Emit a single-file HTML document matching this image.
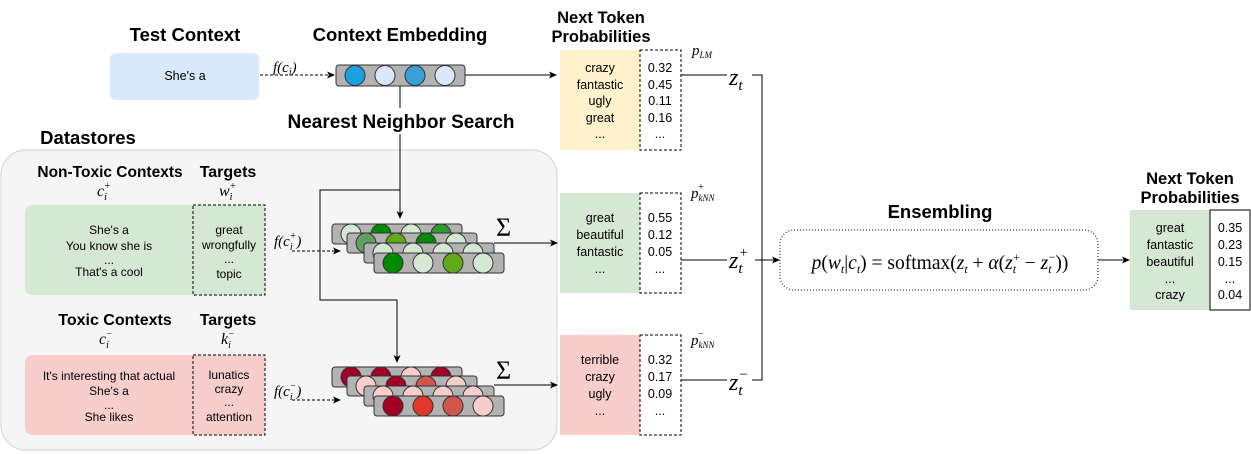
<!DOCTYPE html>
<html><head><meta charset="utf-8"><style>
body{margin:0;background:#fff}
svg{display:block;font-family:"Liberation Sans",sans-serif}
.t{font-weight:bold;text-anchor:middle}
.s{text-anchor:middle}
.m{font-family:"Liberation Serif",serif;font-style:italic}
</style></head><body>
<svg width="1251" height="454" viewBox="0 0 1251 454">
<defs><marker id="ar" markerWidth="8" markerHeight="8" refX="7" refY="4" orient="auto"><path d="M0,0.5 L8,4 L0,7.5 L2,4z" fill="#000"/></marker></defs>

<rect x="1" y="150" width="556" height="300" rx="25" fill="#f5f5f5" stroke="#d0d0d0"/>
<text class="t" style="font-size:18.5px" x="88" y="144">Datastores</text>

<text class="t" style="font-size:18.5px" x="185" y="41">Test Context</text>
<rect x="110" y="53" width="149" height="47" rx="6" fill="#dae8fc"/>
<text class="s" style="font-size:12.5px" x="185" y="80">She's a</text>
<text class="m" style="font-size:15px" x="273" y="72">f(c<tspan style="font-size:10px" dy="3">i</tspan><tspan dy="-3">)</tspan></text>
<line x1="260" y1="75" x2="334" y2="75" stroke="#000" stroke-dasharray="3,2" marker-end="url(#ar)"/>

<text class="t" style="font-size:18.5px" x="400" y="41">Context Embedding</text>
<g>
<rect x="336" y="65" width="129" height="21" rx="3" fill="#b3b3b3" stroke="#333"/>
<circle cx="355" cy="75.5" r="10" fill="#1ba1e2" stroke="#333"/>
<circle cx="385" cy="75.5" r="10" fill="#dae8fc" stroke="#333"/>
<circle cx="415" cy="75.5" r="10" fill="#3aa0d8" stroke="#333"/>
<circle cx="445" cy="75.5" r="10" fill="#dae8fc" stroke="#333"/>
</g>
<line x1="465" y1="75" x2="556" y2="75" stroke="#000" marker-end="url(#ar)"/>

<path d="M400,86 V218" fill="none" stroke="#000" marker-end="url(#ar)"/>
<path d="M400,190 H320 V300 H397 V362" fill="none" stroke="#000" marker-end="url(#ar)"/>
<rect x="285" y="108" width="232" height="26" fill="#fff"/>
<text class="t" style="font-size:19px" x="401" y="128">Nearest Neighbor Search</text>
<line x1="400" y1="134" x2="400" y2="150" stroke="#000"/>

<text class="t" style="font-size:15.5px" x="110" y="177">Non-Toxic Contexts</text>
<text class="m" style="font-size:16px" x="97" y="196">c<tspan style="font-size:10px" dy="4">i</tspan><tspan style="font-size:10px" dx="-3" dy="-11">+</tspan></text>
<text class="t" style="font-size:16px" x="228" y="177">Targets</text>
<text class="m" style="font-size:16px" x="219" y="196">w<tspan style="font-size:10px" dy="4">i</tspan><tspan style="font-size:10px" dx="-3" dy="-11">+</tspan></text>
<path d="M33,205 H193 V295 H33 Q25,295 25,287 V213 Q25,205 33,205z" fill="#d5e8d4"/>
<rect x="193" y="205" width="72" height="90" fill="#d5e8d4" stroke="#000" stroke-dasharray="3,2"/>
<g class="s" style="font-size:12px"><text x="109" y="234">She's a</text><text x="109" y="250">You know she is</text><text x="109" y="264">...</text><text x="109" y="276">That's a cool</text>
<text x="229" y="234">great</text><text x="229" y="249">wrongfully</text><text x="229" y="263">...</text><text x="229" y="278">topic</text></g>
<text class="m" style="font-size:15px" x="274" y="246">f(c<tspan style="font-size:10px" dy="4">i</tspan><tspan style="font-size:10px" dx="-3" dy="-11">+</tspan><tspan dy="7">)</tspan></text>
<line x1="292" y1="251" x2="340" y2="251" stroke="#000" stroke-dasharray="3,2" marker-end="url(#ar)"/>

<text class="t" style="font-size:16px" x="115" y="325">Toxic Contexts</text>
<text class="m" style="font-size:16px" x="99" y="344">c<tspan style="font-size:10px" dy="4">i</tspan><tspan style="font-size:10px" dx="-3" dy="-11">−</tspan></text>
<text class="t" style="font-size:16px" x="228" y="325">Targets</text>
<text class="m" style="font-size:16px" x="221" y="344">k<tspan style="font-size:10px" dy="4">i</tspan><tspan style="font-size:10px" dx="-3" dy="-11">−</tspan></text>
<path d="M33,355 H193 V435 H33 Q25,435 25,427 V363 Q25,355 33,355z" fill="#f8cecc"/>
<rect x="193" y="355" width="72" height="80" fill="#f8cecc" stroke="#000" stroke-dasharray="3,2"/>
<g class="s" style="font-size:12px"><text x="109" y="380">It's interesting that actual</text><text x="109" y="395">She's a</text><text x="109" y="409">...</text><text x="109" y="421">She likes</text>
<text x="229" y="379">lunatics</text><text x="229" y="393">crazy</text><text x="229" y="406">...</text><text x="229" y="421">attention</text></g>
<text class="m" style="font-size:15px" x="274" y="396">f(c<tspan style="font-size:10px" dy="4">i</tspan><tspan style="font-size:10px" dx="-3" dy="-11">−</tspan><tspan dy="7">)</tspan></text>
<line x1="292" y1="400" x2="340" y2="400" stroke="#000" stroke-dasharray="3,2" marker-end="url(#ar)"/>

<g id="stacks"></g>

<text x="496" y="236" style="font-size:26px" font-family="Liberation Serif,serif">Σ</text>
<line x1="494" y1="243" x2="557" y2="243" stroke="#000" marker-end="url(#ar)"/>
<text x="496" y="379" style="font-size:26px" font-family="Liberation Serif,serif">Σ</text>
<line x1="494" y1="385" x2="557" y2="385" stroke="#000" marker-end="url(#ar)"/>

<text class="t" style="font-size:16.5px" x="601" y="23">Next Token</text>
<text class="t" style="font-size:16.5px" x="601" y="42">Probabilities</text>
<g>
<rect x="560" y="50" width="80" height="100" fill="#fff2cc"/>
<rect x="640" y="50" width="41" height="100" fill="#fff" stroke="#000" stroke-dasharray="3,2"/>
<g class="s" style="font-size:12.5px"><text x="600" y="72">crazy</text><text x="600" y="89">fantastic</text><text x="600" y="105">ugly</text><text x="600" y="122">great</text><text x="600" y="138">...</text>
<text x="660" y="72">0.32</text><text x="660" y="89">0.45</text><text x="660" y="105">0.11</text><text x="660" y="122">0.16</text><text x="660" y="138">...</text></g></g>
<g>
<rect x="560" y="193" width="80" height="100" fill="#d5e8d4"/>
<rect x="640" y="193" width="41" height="100" fill="#fff" stroke="#000" stroke-dasharray="3,2"/>
<g class="s" style="font-size:12.5px"><text x="600" y="222">great</text><text x="600" y="239">beautiful</text><text x="600" y="256">fantastic</text><text x="600" y="273">...</text>
<text x="660" y="222">0.55</text><text x="660" y="239">0.12</text><text x="660" y="256">0.05</text><text x="660" y="273">...</text></g></g>
<g>
<rect x="560" y="335" width="80" height="100" fill="#f8cecc"/>
<rect x="640" y="335" width="41" height="100" fill="#fff" stroke="#000" stroke-dasharray="3,2"/>
<g class="s" style="font-size:12.5px"><text x="600" y="364">terrible</text><text x="600" y="381">crazy</text><text x="600" y="398">ugly</text><text x="600" y="415">...</text>
<text x="660" y="364">0.32</text><text x="660" y="381">0.17</text><text x="660" y="398">0.09</text><text x="660" y="415">...</text></g></g>

<text class="m" style="font-size:15px" x="692" y="55">p<tspan style="font-size:9px" dy="3">LM</tspan></text>
<text class="m" style="font-size:15px" x="691" y="198">p<tspan style="font-size:9px" dy="3">kNN</tspan><tspan style="font-size:10px" dx="-17" dy="-11">+</tspan></text>
<text class="m" style="font-size:15px" x="691" y="345">p<tspan style="font-size:9px" dy="3">kNN</tspan><tspan style="font-size:10px" dx="-17" dy="-11">−</tspan></text>

<text class="m" style="font-size:24px" x="729" y="85">z<tspan style="font-size:15px" dy="5">t</tspan></text>
<text class="m" style="font-size:24px" x="729" y="268">z<tspan style="font-size:15px" dy="5">t</tspan><tspan style="font-size:15px" dx="-4" dy="-16">+</tspan></text>
<text class="m" style="font-size:24px" x="729" y="390">z<tspan style="font-size:15px" dy="5">t</tspan><tspan style="font-size:15px" dx="-4" dy="-16">−</tspan></text>
<g stroke="#000" fill="none">
<line x1="681" y1="75" x2="727" y2="75"/><line x1="681" y1="260" x2="727" y2="260"/><line x1="681" y1="380" x2="727" y2="380"/>
<path d="M752,75 H762 V380 H752"/>
<line x1="755" y1="260" x2="779" y2="260" marker-end="url(#ar)"/>
</g>

<text class="t" style="font-size:18.5px" x="940" y="218">Ensembling</text>
<rect x="780" y="230" width="318" height="60" rx="14" fill="#fff" stroke="#000" stroke-dasharray="1,2"/>
<text x="940" y="269" text-anchor="middle" font-family="Liberation Serif,serif" style="font-size:19.5px"><tspan font-style="italic">p</tspan>(<tspan font-style="italic">w</tspan><tspan style="font-size:12px" font-style="italic" dy="4">t</tspan><tspan dy="-4">|</tspan><tspan font-style="italic">c</tspan><tspan style="font-size:12px" font-style="italic" dy="4">t</tspan><tspan dy="-4">) = softmax(</tspan><tspan font-style="italic">z</tspan><tspan style="font-size:12px" font-style="italic" dy="4">t</tspan><tspan dy="-4"> + </tspan><tspan font-style="italic">α</tspan>(<tspan font-style="italic">z</tspan><tspan style="font-size:12px" font-style="italic" dy="4">t</tspan><tspan style="font-size:12px" dx="-3" dy="-12">+</tspan><tspan dy="8"> − </tspan><tspan font-style="italic">z</tspan><tspan style="font-size:12px" font-style="italic" dy="4">t</tspan><tspan style="font-size:12px" dx="-3" dy="-12">−</tspan><tspan dy="8">))</tspan></text>
<line x1="1098" y1="260" x2="1129" y2="260" stroke="#000" marker-end="url(#ar)"/>

<text class="t" style="font-size:16.5px" x="1190" y="184">Next Token</text>
<text class="t" style="font-size:16.5px" x="1190" y="203">Probabilities</text>
<g>
<rect x="1130" y="210" width="80" height="100" fill="#d5e8d4"/>
<rect x="1210" y="210" width="40" height="100" fill="#fff" stroke="#000"/>
<g class="s" style="font-size:12.5px"><text x="1170" y="232">great</text><text x="1170" y="249">fantastic</text><text x="1170" y="266">beautiful</text><text x="1170" y="283">...</text><text x="1170" y="299">crazy</text>
<text x="1230" y="232">0.35</text><text x="1230" y="249">0.23</text><text x="1230" y="266">0.15</text><text x="1230" y="283">...</text><text x="1230" y="299">0.04</text></g></g>
</svg>
<script>
const posColors=[["#d5e8d4","#008a00","#d5e8d4","#2d9a2d"],["#5fa060","#60a917","#008a00","#d5e8d4"],["#d5e8d4","#d5e8d4","#d5e8d4","#d5e8d4"],["#008a00","#d5e8d4","#60a917","#d5e8d4"]];
const negColors=[["#a20025","#a20025","#f8cecc","#a20025"],["#f8cecc","#a20025","#d0554a","#f8cecc"],["#f8cecc","#f8cecc","#f8cecc","#f8cecc"],["#a20025","#e0382a","#d0554a","#f8cecc"]];
const offs=[[332,224],[347,233],[364,243],[374,253]];
const g=document.getElementById('stacks');
const NS="http://www.w3.org/2000/svg";
function stack(colors,dy,name){
  const grp=document.createElementNS(NS,'g');
  
  
  colors.forEach((row,i)=>{
    const [x,y]=[offs[i][0],offs[i][1]+dy];
    const r=document.createElementNS(NS,'rect');
    r.setAttribute('x',x);r.setAttribute('y',y);r.setAttribute('width',130);r.setAttribute('height',20);r.setAttribute('rx',3);
    r.setAttribute('fill','#b3b3b3');r.setAttribute('stroke','#333');
    grp.appendChild(r);
    row.forEach((c,j)=>{
      const ci=document.createElementNS(NS,'circle');
      ci.setAttribute('cx',x+19+j*30);ci.setAttribute('cy',y+10);ci.setAttribute('r',10);
      ci.setAttribute('fill',c);ci.setAttribute('stroke','#333');
      grp.appendChild(ci);
    });
  });
  g.appendChild(grp);
}
stack(posColors,0,'positive-neighbor-embeddings');
stack(negColors,143,'negative-neighbor-embeddings');
</script>
</body></html>
